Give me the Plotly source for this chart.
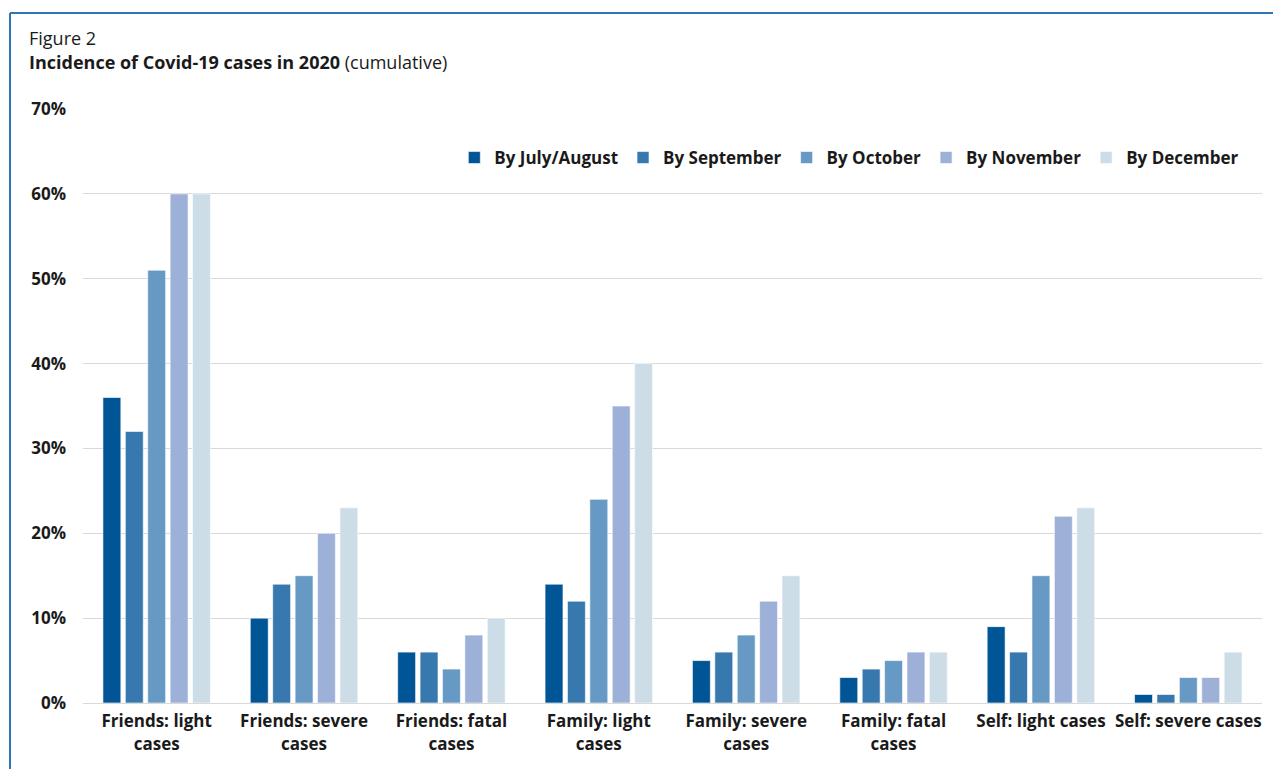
import plotly.graph_objects as go

categories = [
    "Friends: light<br>cases",
    "Friends: severe<br>cases",
    "Friends: fatal<br>cases",
    "Family: light<br>cases",
    "Family: severe<br>cases",
    "Family: fatal<br>cases",
    "Self: light cases",
    "Self: severe cases",
]

by_july_august = [36, 10, 6, 14, 5, 3, 9, 1]
by_september = [32, 14, 6, 12, 6, 4, 6, 1]
by_october = [51, 15, 4, 24, 8, 5, 15, 3]
by_november = [60, 20, 8, 35, 12, 6, 22, 3]
by_december = [60, 23, 10, 40, 15, 6, 23, 6]

series = [
    ("By July/August", by_july_august, "#005596"),
    ("By September", by_september, "#3778AE"),
    ("By October", by_october, "#6699C3"),
    ("By November", by_november, "#9DB0D7"),
    ("By December", by_december, "#CCDDE8"),
]

FONT = "Open Sans"

fig = go.Figure()
for name, vals, color in series:
    fig.add_trace(
        go.Bar(
            x=categories,
            y=vals,
            name=name,
            marker=dict(color=color, line=dict(color="rgba(255,255,255,0.6)", width=1)),
        )
    )

# page has an 8px body margin, so the figure is a bit smaller than the window
fig.update_layout(
    width=1273,
    height=761,
    barmode="group",
    bargap=0.24,
    bargroupgap=0.2,
    plot_bgcolor="white",
    paper_bgcolor="white",
    margin=dict(l=75, r=19, t=101, b=66),
    font=dict(family=FONT, size=17, color="#1a1a1a"),
    showlegend=True,
    legend=dict(
        orientation="h",
        xanchor="right",
        x=0.985,
        yanchor="middle",
        y=0.9175,
        font=dict(size=17, family=FONT, weight="bold"),
        bgcolor="rgba(0,0,0,0)",
        itemwidth=30,
        traceorder="normal",
    ),
)

fig.update_yaxes(
    range=[0, 70],
    dtick=10,
    ticksuffix="%",
    showgrid=True,
    gridcolor="#D9D9D9",
    gridwidth=1,
    zeroline=False,
    tickfont=dict(size=17, family=FONT, weight="bold"),
    ticklabelstandoff=16,
)
fig.update_xaxes(
    showline=True,
    linecolor="#D9D9D9",
    linewidth=1,
    tickfont=dict(size=17, family=FONT, weight="bold"),
    tickangle=0,
    ticklabelstandoff=3,
)

# title text
fig.add_annotation(
    text="Figure 2",
    xref="paper", yref="paper",
    x=-0.0475, y=1.1195,
    xanchor="left", yanchor="middle",
    showarrow=False,
    font=dict(size=18, family=FONT, color="#1a1a1a"),
)
fig.add_annotation(
    text="<b>Incidence of Covid-19 cases in 2020</b> (cumulative)",
    xref="paper", yref="paper",
    x=-0.0475, y=1.0791,
    xanchor="left", yanchor="middle",
    showarrow=False,
    font=dict(size=18, family=FONT, color="#1a1a1a"),
)

# frame lines (top and left)
fig.add_shape(
    type="line", xref="paper", yref="paper",
    x0=-0.0619, x1=1.02, y0=1.1616, y1=1.1616,
    line=dict(color="#2E75B6", width=2),
)
fig.add_shape(
    type="line", xref="paper", yref="paper",
    x0=-0.0619, x1=-0.0619, y0=1.1616, y1=-0.12,
    line=dict(color="#2E75B6", width=2),
)

fig.write_html("out.html")
